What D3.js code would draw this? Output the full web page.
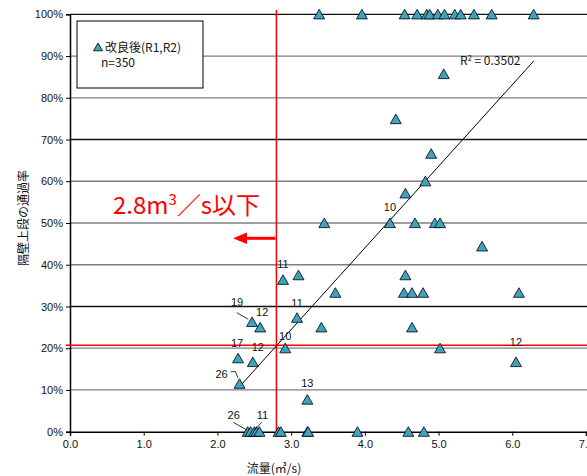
<!DOCTYPE html>
<html><head><meta charset="utf-8">
<script src="https://cdn.jsdelivr.net/npm/d3@7"></script>
<style>body{margin:0;background:#fff}svg{display:block}</style>
</head><body>
<script>
// ---- data (flow m3/s, pass rate %) ----
const flowX = [3.38,3.96,4.54,4.71,4.84,4.88,4.99,5.08,5.22,5.30,5.48,5.72,6.29,
  5.07,4.42,4.90,4.82,4.55,
  3.45,4.34,4.68,4.95,5.02,
  5.59,4.55,3.10,2.89,
  3.60,4.53,4.64,4.79,6.09,
  3.08,2.47,2.58,3.41,4.64,
  2.92,5.02,2.28,2.48,6.05,2.30,3.22,
  2.41,2.45,2.50,2.53,2.57,2.83,2.86,3.22,3.23,3.90,4.59,4.80];
const rateY = [100,100,100,100,100,100,100,100,100,100,100,100,100,
  85.7,74.9,66.6,60.0,57.1,
  50,50,50,50,50,
  44.4,37.5,37.5,36.4,
  33.3,33.3,33.3,33.3,33.3,
  27.3,26.3,25.0,25.0,25.0,
  20.0,20.0,17.6,16.7,16.7,11.5,7.7,
  0,0,0,0,0,0,0,0,0,0,0,0];
const xTicks = [0,1,2,3,4,5,6,7];
const xTickLabels = ["0.0","1.0","2.0","3.0","4.0","5.0","6.0","7.0"];
const yTicks = [0,10,20,30,40,50,60,70,80,90,100];
const trendX = [2.28, 6.29];
const trendY = [10.4, 88.8];
const thresholdX = 2.8;
const thresholdY = 20.7;
// annotation labels: text, point (x,y)
const annText = ["11","11","10","10","19","12","17","12","26","13","26","11","12"];
const annX = [2.89,3.08,4.34,2.92,2.47,2.58,2.28,2.48,2.30,3.22,2.41,2.57,6.05];
const annY = [36.4,27.3,50,20.0,26.3,25.0,17.6,16.7,11.5,7.7,0,0,16.7];

const W=587,H=476;
const svg=d3.select("body").append("svg").attr("width",W).attr("height",H);
const x=d3.scaleLinear().domain([0,7]).range([70,586]);
const y=d3.scaleLinear().domain([0,100]).range([431.7,14.3]);
const jp='"Noto Sans CJK JP", sans-serif';
const num='"Liberation Sans", Arial, sans-serif';

// gridlines
svg.append("g").selectAll("line").data(yTicks.filter(d=>d>0)).join("line")
  .attr("x1",70).attr("x2",W).attr("y1",d=>y(d)).attr("y2",d=>y(d))
  .attr("stroke",d=>(d===100||d===70||d===30)?"#111":"#7f7f7f").attr("stroke-width",1.3);

// axes
const gy=svg.append("g").attr("transform","translate(70,0)")
  .call(d3.axisLeft(y).tickValues(yTicks).tickFormat(d=>d+"%").tickSize(4).tickPadding(3));
const gx=svg.append("g").attr("transform",`translate(0,${y(0)})`)
  .call(d3.axisBottom(x).tickValues(xTicks).tickFormat((d,i)=>xTickLabels[i]).tickSize(4).tickPadding(5));
[gx,gy].forEach(g=>{g.select(".domain").attr("stroke","#000").attr("stroke-width",1.5);
  g.selectAll(".tick line").attr("stroke","#000");
  g.selectAll("text").attr("font-family",num).attr("font-size",11).attr("fill","#111");});

// red threshold lines
svg.append("line").attr("x1",x(thresholdX)).attr("x2",x(thresholdX)).attr("y1",10).attr("y2",y(0))
  .attr("stroke","#ff0000").attr("stroke-width",1.5);
svg.append("line").attr("x1",66).attr("x2",W).attr("y1",y(thresholdY)).attr("y2",y(thresholdY))
  .attr("stroke","#ff0000").attr("stroke-width",1.5);

// trendline
svg.append("line").attr("x1",x(trendX[0])).attr("y1",y(trendY[0])).attr("x2",x(trendX[1])).attr("y2",y(trendY[1]))
  .attr("stroke","#000").attr("stroke-width",1);
svg.append("text").attr("x",460).attr("y",65).attr("font-family",jp).attr("font-size",12).attr("fill","#111")
  .html('R<tspan font-size="7.5" dy="-4">2</tspan><tspan dy="4"> = 0.3502</tspan>');

// points
const tri="M0,-5L5.5,4.6L-5.5,4.6Z";
svg.append("g").selectAll("path").data(flowX).join("path")
  .attr("d",tri).attr("transform",(d,i)=>`translate(${x(d)},${y(rateY[i])})`)
  .attr("fill","#3ea3be").attr("stroke","#000").attr("stroke-width",0.8);

// annotation labels (offsets from point)
const offs=[[0,-16],[0,-15],[0,-16],[0,-12],[-15,-20],[2,-15],[-1,-15],[5,-15],[-18,-10],[0,-17],[-14,-17],[3,-17],[0,-20]];
const ann=svg.append("g").attr("font-family",num).attr("font-size",11).attr("fill","#111");
annText.forEach((t,i)=>{
  const px=x(annX[i])+offs[i][0], py=y(annY[i])+offs[i][1];
  ann.append("text").attr("x",px).attr("y",py+4).attr("text-anchor","middle").text(t);
});
// leader lines
const leaders=[[[236.7,312.7],[248.3,319.3]],[[230.7,371.7],[235.5,371.7],[238,378]],
  [[233.3,422.3],[246.7,430]],[[261.7,422.3],[254.5,430]]];
leaders.forEach(p=>svg.append("path").attr("d",d3.line()(p)).attr("fill","none").attr("stroke","#000").attr("stroke-width",0.8));

// arrow & red text
svg.append("line").attr("x1",x(thresholdX)-1).attr("x2",245).attr("y1",238.3).attr("y2",238.3)
  .attr("stroke","#ff0000").attr("stroke-width",3);
svg.append("path").attr("d","M233,238.3L247,232.5L247,244.1Z").attr("fill","#ff0000");
svg.append("text").attr("x",113).attr("y",214).attr("font-family",jp).attr("font-size",24).attr("fill","#ff0000")
  .html('2.8m<tspan font-size="15" dy="-9">3</tspan><tspan dy="9">／s以下</tspan>');

// legend
svg.append("rect").attr("x",77).attr("y",21).attr("width",126).attr("height",67)
  .attr("fill","#fff").attr("stroke","#000").attr("stroke-width",1);
svg.append("path").attr("d","M0,-4L4.5,3.8L-4.5,3.8Z").attr("transform","translate(98,47)")
  .attr("fill","#3ea3be").attr("stroke","#000").attr("stroke-width",0.8);
svg.append("text").attr("x",105).attr("y",51.5).attr("font-family",jp).attr("font-size",12).attr("fill","#111").text("改良後(R1,R2)");
svg.append("text").attr("x",101).attr("y",67).attr("font-family",jp).attr("font-size",12).attr("fill","#111").text("n=350");

// axis titles
svg.append("text").attr("transform","translate(27.5,218) rotate(-90)").attr("text-anchor","middle")
  .attr("font-family",jp).attr("font-size",12).attr("fill","#111").text("隔壁上段の通過率");
svg.append("text").attr("x",274).attr("y",473).attr("text-anchor","middle")
  .attr("font-family",jp).attr("font-size",12).attr("fill","#111").text("流量(㎥/s)");
</script>
</body></html>
